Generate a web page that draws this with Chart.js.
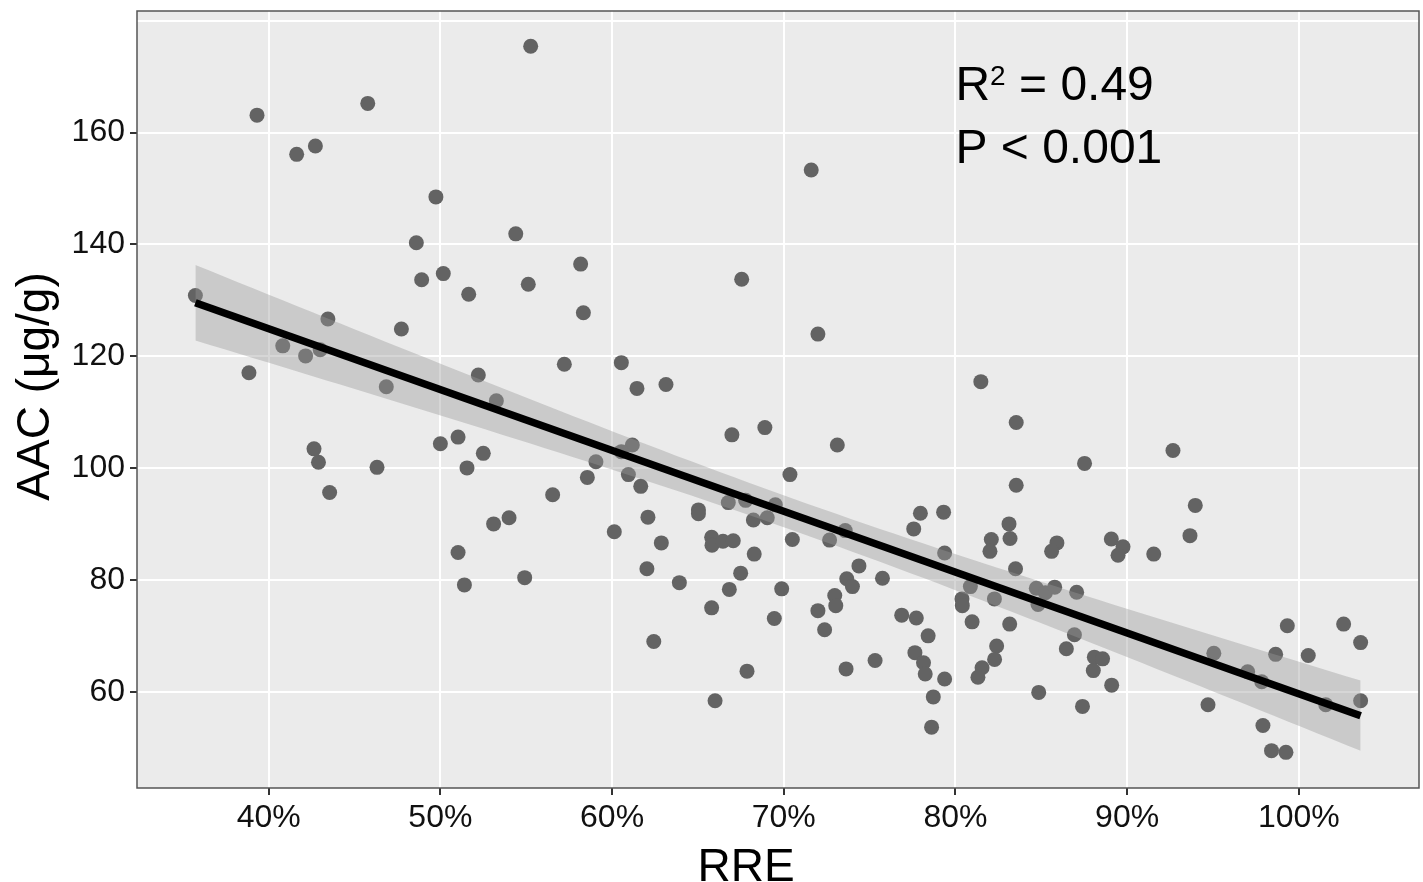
<!DOCTYPE html>
<html><head><meta charset="utf-8">
<script src="https://cdn.jsdelivr.net/npm/chart.js@4.4.1/dist/chart.umd.min.js"></script>
<style>html,body{margin:0;padding:0;background:#fff;}#wrap{width:1423px;height:882px;}</style>
</head><body><div id="wrap"><canvas id="c" width="1423" height="882"></canvas></div>
<script>
// RRE (%) for each sample
const rre = [35.73,39.32,45.77,41.63,42.72,49.74,48.60,48.91,50.17,51.65,
43.45,47.73,40.82,42.15,43.00,38.85,46.85,52.21,51.03,50.00,
52.50,42.64,42.90,46.31,51.55,43.55,51.03,51.40,55.26,71.60,
54.39,58.17,55.12,67.55,58.33,71.99,57.22,60.54,61.45,63.14,
53.26,66.98,68.90,61.18,60.54,59.06,60.95,61.67,58.56,56.54,
70.36,53.10,54.00,60.13,62.09,65.03,65.03,62.87,66.77,67.78,
69.51,68.23,69.04,65.80,65.82,66.46,67.06,68.28,70.50,62.03,
67.49,54.91,63.92,66.83,69.88,65.80,69.45,71.99,72.38,62.43,
67.86,66.00,73.12,81.48,83.54,87.52,92.67,83.54,77.96,79.31,
77.57,73.58,72.67,83.12,83.18,82.09,82.01,85.91,85.60,89.08,
89.76,89.47,91.55,79.37,74.38,83.50,73.67,74.00,75.75,72.97,
73.03,76.87,77.72,73.63,75.32,78.41,77.64,78.14,78.24,79.37,
78.71,78.61,80.38,80.40,80.87,80.97,82.27,83.16,82.40,82.28,
81.55,81.31,84.71,85.24,85.78,84.81,87.06,86.93,86.46,84.85,
87.40,88.09,88.57,88.03,89.10,93.97,93.66,99.33,102.61,103.60,
100.55,98.65,95.05,97.02,97.84,94.71,101.57,103.60,97.91,98.41,
99.25];
// AAC (µg/g) for each sample
const aac = [130.9,163.1,165.2,156.1,157.6,148.5,140.3,133.7,134.8,131.1,
126.7,124.9,121.9,120.1,121.2,117.1,114.6,116.7,105.6,104.4,
102.7,103.5,101.1,100.2,100.1,95.7,85.0,79.2,175.4,153.3,
141.9,136.5,132.9,133.8,127.8,124.0,118.6,118.9,114.3,115.0,
112.1,106.0,107.3,104.2,103.0,101.2,98.9,96.8,98.4,95.3,
98.9,90.1,91.2,88.7,91.3,92.6,91.9,86.7,93.9,94.3,
93.5,90.8,91.2,87.7,86.3,87.0,87.1,84.7,87.3,82.1,
81.3,80.5,79.6,78.4,78.5,75.1,73.2,74.6,71.2,69.1,
63.8,58.5,104.2,115.5,108.2,100.9,103.2,97.0,92.0,92.2,
89.2,88.9,87.2,90.1,87.5,87.3,85.2,86.7,85.2,87.4,
86.0,84.5,84.7,84.9,82.6,82.1,80.3,78.9,80.4,77.3,
75.5,73.8,73.3,64.2,65.7,70.1,67.1,65.3,63.3,62.4,
59.2,53.8,76.7,75.5,78.9,72.6,76.7,72.2,68.3,65.9,
64.4,62.7,78.6,77.8,78.8,75.7,77.9,70.3,67.8,60.0,
57.5,66.3,66.0,63.9,61.3,93.4,88.0,71.9,72.2,68.9,
66.6,66.8,67.0,63.7,61.9,57.8,57.8,58.5,54.1,49.6,
49.3];
const xTicks = [40,50,60,70,80,90,100];
const yLabelledTicks = [60,80,100,120,140,160];
const yGridOnlyTicks = [180];
const xTitle = 'RRE';
const yTitle = 'AAC (μg/g)';
const statR2 = '0.49';
const statP = '< 0.001';

// least-squares fit with 95% confidence band (computed from the data)
const n = rre.length;
const mx = rre.reduce((s,v)=>s+v,0)/n, my = aac.reduce((s,v)=>s+v,0)/n;
let sxx=0, sxy=0;
for (let i=0;i<n;i++){ sxx += (rre[i]-mx)**2; sxy += (rre[i]-mx)*(aac[i]-my); }
const slope = sxy/sxx, icpt = my - slope*mx;
let sse=0; for (let i=0;i<n;i++){ sse += (aac[i]-(icpt+slope*rre[i]))**2; }
const sRes = Math.sqrt(sse/(n-2)), tCrit = 1.975;
const xLo = Math.min(...rre), xHi = Math.max(...rre);
const fitLine = [xLo,xHi].map(x=>({x, y: icpt+slope*x}));
const bandUp = [], bandDn = [];
for (let k=0;k<=80;k++){
  const x = xLo + (xHi-xLo)*k/80;
  const se = sRes*Math.sqrt(1/n + (x-mx)**2/sxx);
  const yh = icpt+slope*x;
  bandUp.push({x, y: yh + tCrit*se});
  bandDn.push({x, y: yh - tCrit*se});
}
const points = rre.map((x,i)=>({x, y: aac[i]}));

const FONT = '"Liberation Sans", Arial, Helvetica, sans-serif';

const panelPlugin = {
  id: 'panel',
  beforeDraw(chart){
    const {ctx, chartArea:a} = chart;
    ctx.save(); ctx.fillStyle = '#EBEBEB';
    ctx.fillRect(a.left, a.top, a.right-a.left, a.bottom-a.top);
    ctx.restore();
  },
  afterDatasetsDraw(chart){
    const {ctx, chartArea:a, scales} = chart;
    ctx.save();
    ctx.strokeStyle = '#555555'; ctx.lineWidth = 1.5;
    ctx.strokeRect(a.left, a.top, a.right-a.left, a.bottom-a.top);
    // statistics annotation
    const x0 = scales.x.getPixelForValue(80);
    const y1 = scales.y.getPixelForValue(165.84);
    const y2 = scales.y.getPixelForValue(154.54);
    ctx.fillStyle = '#000'; ctx.textAlign = 'left'; ctx.textBaseline = 'alphabetic';
    ctx.font = '48px ' + FONT;
    ctx.fillText('R', x0, y1);
    const wR = ctx.measureText('R').width;
    ctx.font = '28px ' + FONT;
    ctx.fillText('2', x0 + wR, y1 - 15);
    const w2 = ctx.measureText('2').width;
    ctx.font = '48px ' + FONT;
    ctx.fillText(' = ' + statR2, x0 + wR + w2, y1);
    ctx.fillText('P ' + statP, x0, y2);
    // axis titles
    ctx.font = '46px ' + FONT;
    ctx.textAlign = 'center';
    ctx.fillText(xTitle, 746, 881);
    ctx.translate(49, 386.5);
    ctx.rotate(-Math.PI/2);
    ctx.fillText(yTitle, 0, 0);
    ctx.restore();
  }
};

new Chart(document.getElementById('c'), {
  type: 'scatter',
  data: { datasets: [
    { type:'line', data: fitLine, borderColor:'#000', borderWidth:7.5, pointRadius:0, fill:false, order:1, borderCapStyle:'butt' },
    { type:'line', data: bandUp, borderWidth:0, borderColor:'rgba(0,0,0,0)', pointRadius:0, fill:'+1', backgroundColor:'rgba(153,153,153,0.4)', order:2 },
    { type:'line', data: bandDn, borderWidth:0, borderColor:'rgba(0,0,0,0)', pointRadius:0, fill:false, order:2 },
    { type:'scatter', data: points, pointRadius:7.5, pointBackgroundColor:'#636363', pointBorderWidth:0, order:3 }
  ]},
  plugins: [panelPlugin],
  options: {
    responsive:false, animation:false, events:[],
    layout:{ autoPadding:false, padding:{ top:11, right:4, left:0, bottom:0 } },
    plugins:{ legend:{display:false}, tooltip:{enabled:false} },
    scales:{
      x:{ type:'linear', min:32.33, max:107.0,
        afterBuildTicks: s => { s.ticks = xTicks.map(v=>({value:v})); },
        afterFit: s => { s.height = 94; s.paddingLeft = 0; s.paddingRight = 0; },
        ticks:{ callback: v => v + '%', font:{size:32, family:FONT}, color:'#111', padding:4, maxRotation:0 },
        grid:{ color:'#FFFFFF', lineWidth:2, tickColor:'#333', tickLength:7, tickWidth:2 },
        border:{ display:false },
        title:{ display:false }
      },
      y:{ type:'linear', min:42.93, max:181.7,
        afterBuildTicks: s => { s.ticks = yLabelledTicks.concat(yGridOnlyTicks).map(v=>({value:v})); },
        afterFit: s => { s.width = 137; s.paddingTop = 0; s.paddingBottom = 0; },
        ticks:{ callback: v => yLabelledTicks.includes(v) ? String(v) : '', font:{size:32, family:FONT}, color:'#111', padding:5 },
        grid:{ color:'#FFFFFF', lineWidth:2, tickColor: c => (c.tick && yLabelledTicks.includes(c.tick.value)) ? '#333' : 'rgba(0,0,0,0)', tickLength:7, tickWidth:2 },
        border:{ display:false },
        title:{ display:false }
      }
    }
  }
});
</script></body></html>
